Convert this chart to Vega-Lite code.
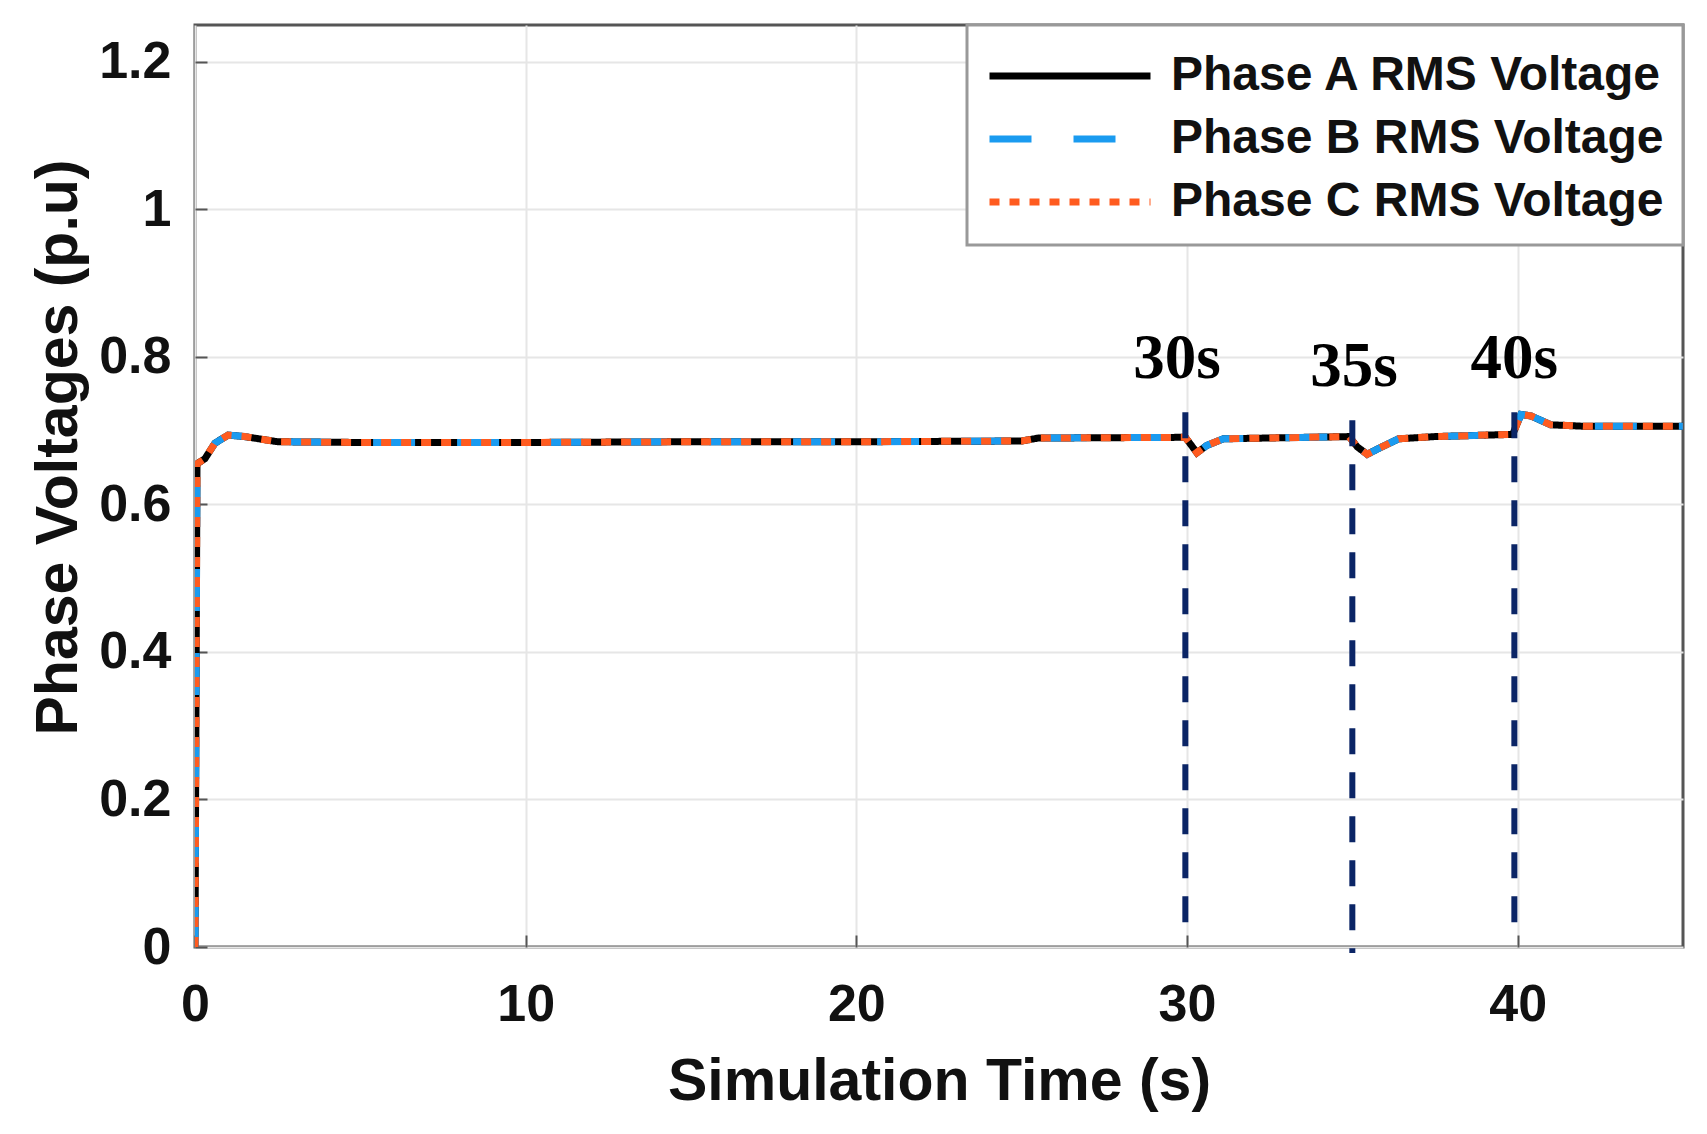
{
  "$schema": "https://vega.github.io/schema/vega-lite/v6.json",
  "width": 1488,
  "height": 922,
  "autosize": "none",
  "padding": {"left": 195, "top": 25, "right": 24, "bottom": 187},
  "background": "white",
  "config": {
    "view": {"stroke": "#555555", "strokeWidth": 3},
    "font": "Liberation Sans",
    "axis": {
      "labelFont": "Liberation Sans",
      "labelFontWeight": "bold",
      "labelFontSize": 52,
      "labelColor": "#111111",
      "labelFlush": false,
      "titleFont": "Liberation Sans",
      "titleFontWeight": "bold",
      "titleFontSize": 59,
      "titleColor": "#111111",
      "domain": false,
      "grid": true,
      "gridColor": "#e6e6e6",
      "gridWidth": 2,
      "tickColor": "#555555",
      "tickWidth": 2,
      "tickSize": -12
    },
    "legend": {
      "orient": "top-right",
      "offset": 0,
      "padding": 19,
      "fillColor": "white",
      "strokeColor": "#999999",
      "strokeWidth": 3,
      "symbolType": "stroke",
      "symbolSize": 25921,
      "symbolStrokeWidth": 7,
      "symbolOffset": 0,
      "clipHeight": 48,
      "labelFont": "Liberation Sans",
      "labelFontWeight": "bold",
      "labelFontSize": 48,
      "labelColor": "#111111",
      "labelLimit": 0,
      "labelOffset": 17,
      "rowPadding": 15,
      "titleFontSize": 8,
      "titlePadding": 0,
      "titleColor": "white"
    }
  },
  "datasets": {
    "volts": [
      {"t": 0, "a": 0, "b": 0, "c": 0},
      {"t": 0.06, "a": 0.655, "b": 0.655, "c": 0.655},
      {"t": 0.3, "a": 0.662, "b": 0.662, "c": 0.662},
      {"t": 0.6, "a": 0.683, "b": 0.683, "c": 0.683},
      {"t": 1.0, "a": 0.694, "b": 0.694, "c": 0.694},
      {"t": 1.5, "a": 0.692, "b": 0.692, "c": 0.692},
      {"t": 2.5, "a": 0.685, "b": 0.685, "c": 0.685},
      {"t": 5, "a": 0.684, "b": 0.684, "c": 0.684},
      {"t": 10, "a": 0.684, "b": 0.684, "c": 0.684},
      {"t": 15, "a": 0.685, "b": 0.685, "c": 0.685},
      {"t": 20, "a": 0.685, "b": 0.685, "c": 0.685},
      {"t": 25, "a": 0.686, "b": 0.686, "c": 0.686},
      {"t": 25.5, "a": 0.690, "b": 0.690, "c": 0.690},
      {"t": 29.95, "a": 0.691, "b": 0.691, "c": 0.691},
      {"t": 30.3, "a": 0.670, "b": 0.670, "c": 0.670},
      {"t": 30.6, "a": 0.680, "b": 0.680, "c": 0.680},
      {"t": 31.1, "a": 0.689, "b": 0.689, "c": 0.689},
      {"t": 34.9, "a": 0.692, "b": 0.692, "c": 0.692},
      {"t": 35.15, "a": 0.678, "b": 0.678, "c": 0.678},
      {"t": 35.45, "a": 0.668, "b": 0.668, "c": 0.668},
      {"t": 35.8, "a": 0.676, "b": 0.676, "c": 0.676},
      {"t": 36.4, "a": 0.689, "b": 0.689, "c": 0.689},
      {"t": 37.5, "a": 0.692, "b": 0.692, "c": 0.692},
      {"t": 39.85, "a": 0.695, "b": 0.695, "c": 0.695},
      {"t": 40.1, "a": 0.722, "b": 0.722, "c": 0.722},
      {"t": 40.4, "a": 0.720, "b": 0.720, "c": 0.720},
      {"t": 41.0, "a": 0.708, "b": 0.708, "c": 0.708},
      {"t": 42, "a": 0.706, "b": 0.706, "c": 0.706},
      {"t": 45, "a": 0.706, "b": 0.706, "c": 0.706}
    ],
    "events": [
      {"t": 29.95, "top": 0.725, "bottom": 0.02},
      {"t": 35.0, "top": 0.714, "bottom": -0.008},
      {"t": 39.9, "top": 0.725, "bottom": 0.01}
    ],
    "notes": [
      {"t": 29.7, "v": 0.772, "label": "30s"},
      {"t": 35.05, "v": 0.76, "label": "35s"},
      {"t": 39.9, "v": 0.772, "label": "40s"}
    ]
  },
  "layer": [
    {
      "data": {"name": "volts"},
      "transform": [
        {"fold": ["a", "b", "c"], "as": ["key", "v"]},
        {"lookup": "key", "from": {"data": {"values": [
          {"key": "a", "phase": "Phase A RMS Voltage"},
          {"key": "b", "phase": "Phase B RMS Voltage"},
          {"key": "c", "phase": "Phase C RMS Voltage"}
        ]}, "key": "key", "fields": ["phase"]}}
      ],
      "mark": {"type": "line", "strokeWidth": 7, "clip": true},
      "encoding": {
        "x": {
          "field": "t",
          "type": "quantitative",
          "title": "Simulation Time (s)",
          "scale": {"domain": [0, 45], "nice": false},
          "axis": {"values": [0, 10, 20, 30, 40], "labelPadding": 44, "titlePadding": 22}
        },
        "y": {
          "field": "v",
          "type": "quantitative",
          "title": "Phase Voltages (p.u)",
          "scale": {"domain": [0, 1.25], "nice": false},
          "axis": {"values": [0, 0.2, 0.4, 0.6, 0.8, 1, 1.2], "format": "~g", "labelPadding": 36, "titlePadding": 10, "titleY": 422}
        },
        "color": {
          "field": "phase",
          "type": "nominal",
          "scale": {
            "domain": ["Phase A RMS Voltage", "Phase B RMS Voltage", "Phase C RMS Voltage"],
            "range": ["#000000", "#1a9bf0", "#ff5b1f"]
          },
          "legend": {"title": "."}
        },
        "strokeDash": {
          "field": "phase",
          "type": "nominal",
          "scale": {
            "domain": ["Phase A RMS Voltage", "Phase B RMS Voltage", "Phase C RMS Voltage"],
            "range": [[1, 0], [42, 42], [10, 10]]
          },
          "legend": {"title": "."}
        },
        "order": {"field": "key", "type": "nominal"}
      }
    },
    {
      "data": {"name": "events"},
      "mark": {"type": "rule", "color": "#0b2566", "strokeWidth": 6, "strokeDash": [26, 18]},
      "encoding": {
        "x": {"field": "t", "type": "quantitative"},
        "y": {"field": "top", "type": "quantitative"},
        "y2": {"field": "bottom"}
      }
    },
    {
      "data": {"name": "notes"},
      "mark": {"type": "text", "font": "Liberation Serif", "fontWeight": "bold", "fontSize": 63, "baseline": "alphabetic", "align": "center", "color": "#000000"},
      "encoding": {
        "x": {"field": "t", "type": "quantitative"},
        "y": {"field": "v", "type": "quantitative"},
        "text": {"field": "label"}
      }
    }
  ]
}
